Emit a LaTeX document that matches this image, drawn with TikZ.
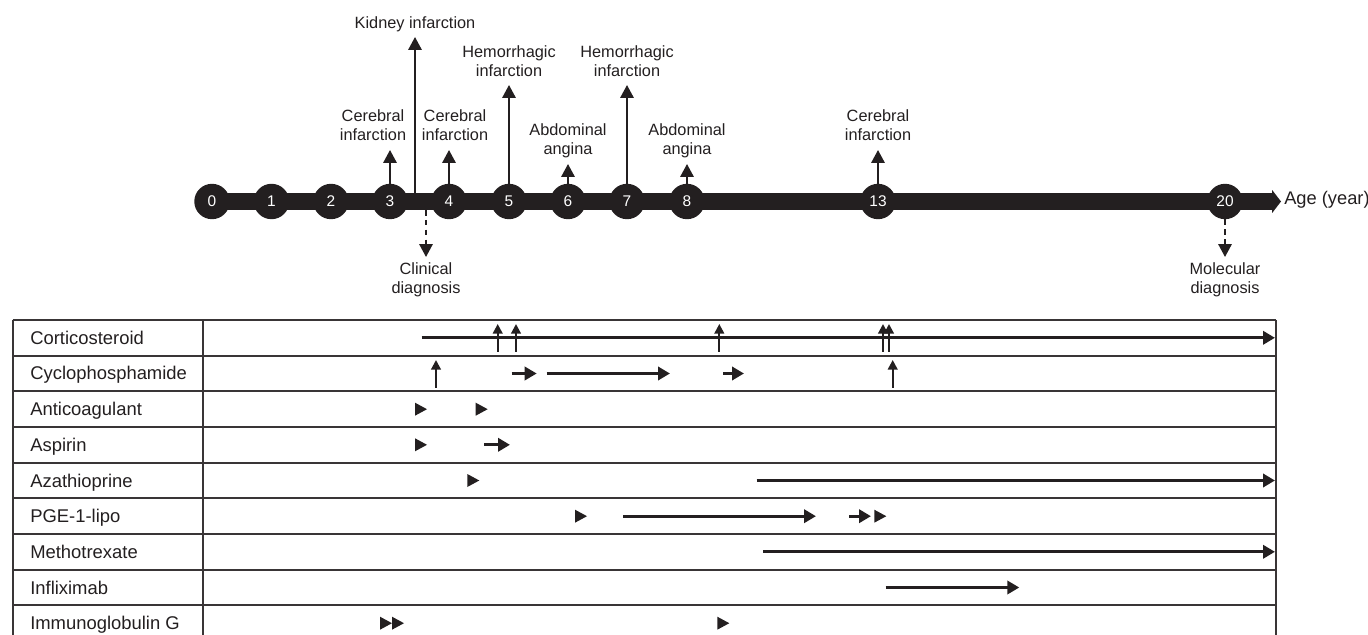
\documentclass[tikz,border=0pt]{standalone}
\usepackage{fontspec}
\setmainfont{Liberation Sans}
\usetikzlibrary{arrows.meta}
\definecolor{ink}{HTML}{231F20}
\newcommand{\pulse}[2]{\fill[ink] (#1,#2-6.5) -- (#1+12,#2) -- (#1,#2+6.5) -- cycle;}
\tikzset{
	yr/.style={circle, fill=ink, minimum size=0.885cm, inner sep=0pt, text=white, font=\fontsize{11}{13}\selectfont},
	evt/.style={draw=ink, line width=1.4pt, -{Triangle[length=0.32cm,width=0.33cm]}},
	diag/.style={evt, dash pattern=on 4pt off 3pt},
	lbl/.style={align=center, inner sep=0pt, text=ink, font=\fontsize{11.6}{13.5}\selectfont},
	drug/.style={anchor=base west, inner sep=0pt, text=ink, font=\fontsize{13.1}{15}\selectfont},
	dose/.style={draw=ink, line width=2.1pt, -{Triangle[length=0.3cm,width=0.33cm]}},
	boost/.style={draw=ink, line width=1.5pt, -{Triangle[length=0.24cm,width=0.24cm]}},
	grid/.style={draw=ink!90, line width=1.3pt}
}
\begin{document}
\begin{tikzpicture}[x=0.025cm, y=-0.025cm, line join=round]
	\useasboundingbox (0,0) rectangle (1368,635);
	% timeline
	\def\ty{201.5}
	\coordinate (start) at (212,\ty);
	\coordinate (axisend) at (1281,\ty);
	\draw[ink, line width=0.425cm, -{Triangle[length=0.22cm,width=0.56cm]}] (start) -- (axisend);
	\node[yr] (c0) at (212,\ty) {0};
	\node[yr] (c1) at (271.5,\ty) {1};
	\node[yr] (c2) at (331,\ty) {2};
	\node[yr] (c3) at (390,\ty) {3};
	\node[yr] (c4) at (449,\ty) {4};
	\node[yr] (c5) at (509,\ty) {5};
	\node[yr] (c6) at (568,\ty) {6};
	\node[yr] (c7) at (627,\ty) {7};
	\node[yr] (c8) at (687,\ty) {8};
	\node[yr] (c13) at (878,\ty) {13};
	\node[yr] (c20) at (1225,\ty) {20};
	\node[drug, anchor=west, font=\fontsize{13}{15}\selectfont] (age) at (1284,200) {Age (year)};
	% events
	\coordinate (t3) at (390,150);
	\coordinate (kb) at (415,193);
	\coordinate (tk) at (415,37);
	\coordinate (t4) at (449,150);
	\coordinate (t5) at (509,85);
	\coordinate (t6) at (568,164);
	\coordinate (t7) at (627,85);
	\coordinate (t8) at (687,164);
	\coordinate (t13) at (878,150);
	\coordinate (cb) at (426,210);
	\coordinate (tc) at (426,257);
	\coordinate (tm) at (1225,257);
	\draw[evt] (c3) -- (t3);
	\draw[evt] (kb) -- (tk);
	\draw[evt] (c4) -- (t4);
	\draw[evt] (c5) -- (t5);
	\draw[evt] (c6) -- (t6);
	\draw[evt] (c7) -- (t7);
	\draw[evt] (c8) -- (t8);
	\draw[evt] (c13) -- (t13);
	\draw[diag] (cb) -- (tc);
	\draw[diag] (c20) -- (tm);
	\node[lbl, anchor=south] (l3) at (373,140.5) {Cerebral\\infarction};
	\node[lbl, anchor=south] (lk) at (415,32.5) {Kidney infarction};
	\node[lbl, anchor=south] (l4) at (455,140.5) {Cerebral\\infarction};
	\node[lbl, anchor=south] (l5) at (509,76.5) {Hemorrhagic\\infarction};
	\node[lbl, anchor=south] (l6) at (568,158.5) {Abdominal\\angina};
	\node[lbl, anchor=south] (l7) at (627,76.5) {Hemorrhagic\\infarction};
	\node[lbl, anchor=south] (l8) at (687,158.5) {Abdominal\\angina};
	\node[lbl, anchor=south] (l13) at (878,140.5) {Cerebral\\infarction};
	\node[lbl, anchor=north] (lc) at (426,262.5) {Clinical\\diagnosis};
	\node[lbl, anchor=north] (lm) at (1225,262.5) {Molecular\\diagnosis};
	% treatment table
	\draw[grid] (12.7,320) -- (1276,320);
	\draw[grid] (12.7,355.7) -- (1276,355.7);
	\draw[grid] (12.7,391.3) -- (1276,391.3);
	\draw[grid] (12.7,427) -- (1276,427);
	\draw[grid] (12.7,462.7) -- (1276,462.7);
	\draw[grid] (12.7,498.3) -- (1276,498.3);
	\draw[grid] (12.7,534) -- (1276,534);
	\draw[grid] (12.7,569.7) -- (1276,569.7);
	\draw[grid] (12.7,605.3) -- (1276,605.3);
	\draw[grid] (12.7,320) -- (12.7,635);
	\draw[grid] (203,320) -- (203,635);
	\draw[grid] (1276,320) -- (1276,635);
	\node[drug] (cort) at (30,344.3) {Corticosteroid};
	\node[drug] (cycl) at (30,380) {Cyclophosphamide};
	\node[drug] (anti) at (30,415.7) {Anticoagulant};
	\node[drug] (aspi) at (30,451.3) {Aspirin};
	\node[drug] (azat) at (30,487) {Azathioprine};
	\node[drug] (pgel) at (30,522.7) {PGE-1-lipo};
	\node[drug] (meth) at (30,558.3) {Methotrexate};
	\node[drug] (infl) at (30,594) {Infliximab};
	\node[drug] (igg) at (30,629.7) {Immunoglobulin G};
	% corticosteroid
	\draw[dose] (421.7,337.8) -- (1275,337.8);
	\draw[boost] (497.7,351.7) -- (497.7,324);
	\draw[boost] (516,351.7) -- (516,324);
	\draw[boost] (719.3,351.7) -- (719.3,324);
	\draw[boost] (883,351.7) -- (883,324);
	\draw[boost] (889,351.7) -- (889,324);
	% cyclophosphamide
	\draw[boost] (436,387.7) -- (436,360);
	\draw[dose] (511.7,373.5) -- (536.7,373.5);
	\draw[dose] (546.7,373.5) -- (670,373.5);
	\draw[dose] (723.3,373.5) -- (744,373.5);
	\draw[boost] (892.7,387.7) -- (892.7,360);
	% anticoagulant
	\pulse{415}{409.2}
	\pulse{475.7}{409.2}
	% aspirin
	\pulse{415}{444.8}
	\draw[dose] (484.3,444.8) -- (510,444.8);
	% azathioprine
	\pulse{467.3}{480.5}
	\draw[dose] (756.7,480.5) -- (1275,480.5);
	% PGE-1-lipo
	\pulse{575}{516.2}
	\draw[dose] (623.3,516.2) -- (816,516.2);
	\draw[dose] (849,516.2) -- (871,516.2);
	\pulse{874.3}{516.2}
	% methotrexate
	\draw[dose] (763.3,551.8) -- (1275,551.8);
	% infliximab
	\draw[dose] (885.7,587.5) -- (1019.3,587.5);
	% immunoglobulin G
	\pulse{380}{623.2}
	\pulse{392}{623.2}
	\pulse{717.3}{623.2}
\end{tikzpicture}
\end{document}
